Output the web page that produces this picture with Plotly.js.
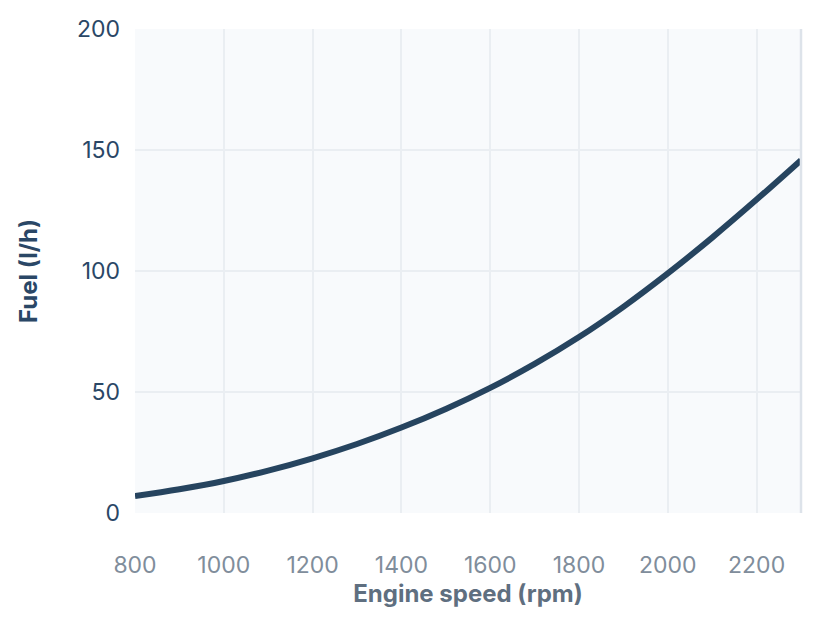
<!DOCTYPE html>
<html>
<head>
<meta charset="utf-8">
<script src="https://cdn.plot.ly/plotly-3.0.1.min.js"></script>
<style>
  html, body { margin: 0; padding: 0; background: #ffffff; }
  #chart { width: 826px; height: 620px; }
</style>
</head>
<body>
<div id="chart"></div>
<script>
const engineSpeed = [800, 900, 1000, 1100, 1200, 1300, 1400, 1500, 1600, 1700, 1800, 1900, 2000, 2100, 2200, 2300];
const fuelRate    = [7, 9.8, 13.2, 17.5, 22.6, 28.5, 35.3, 43, 51.7, 61.6, 72.7, 85.2, 99, 113.8, 129.5, 145.8];
const xTickVals = [800, 1000, 1200, 1400, 1600, 1800, 2000, 2200];
const yTickVals = [0, 50, 100, 150, 200];

const FONT = 'Inter, "Noto Sans", sans-serif';

const trace = {
  x: engineSpeed,
  y: fuelRate,
  type: 'scatter',
  mode: 'lines',
  line: { color: '#26445f', width: 6, shape: 'spline', smoothing: 1 },
  hoverinfo: 'x+y'
};

const layout = {
  width: 826,
  height: 620,
  margin: { l: 135, r: 25, t: 29, b: 107 },
  paper_bgcolor: '#ffffff',
  plot_bgcolor: '#f8fafc',
  showlegend: false,
  font: { family: FONT },
  xaxis: {
    range: [800, 2300],
    tickvals: xTickVals,
    ticktext: xTickVals.map(String),
    showgrid: true,
    gridcolor: '#eaeef2',
    gridwidth: 2,
    zeroline: false,
    showline: false,
    ticks: '',
    ticklabelstandoff: 36,
    tickfont: { family: FONT, size: 23, color: '#808d9b' },
    title: {
      text: 'Engine speed (rpm)',
      font: { family: FONT, size: 24, color: '#5f6f80', weight: 'bold' },
      standoff: 0
    }
  },
  yaxis: {
    range: [0, 200],
    tickvals: yTickVals,
    ticktext: yTickVals.map(String),
    showgrid: true,
    gridcolor: '#eaeef2',
    gridwidth: 2,
    zeroline: false,
    showline: false,
    ticks: '',
    ticklabelstandoff: 14,
    tickfont: { family: FONT, size: 23, color: '#2a4766' },
    title: {
      text: 'Fuel (l/h)',
      font: { family: FONT, size: 24, color: '#2a4766', weight: 'bold' },
      standoff: 32
    }
  },
  shapes: [{
    type: 'line', xref: 'paper', yref: 'paper',
    x0: 1, x1: 1, y0: 0, y1: 1,
    line: { color: '#dde3ea', width: 2.5 },
    layer: 'above'
  }]
};

Plotly.newPlot('chart', [trace], layout, { displayModeBar: false, staticPlot: true });
</script>
</body>
</html>
